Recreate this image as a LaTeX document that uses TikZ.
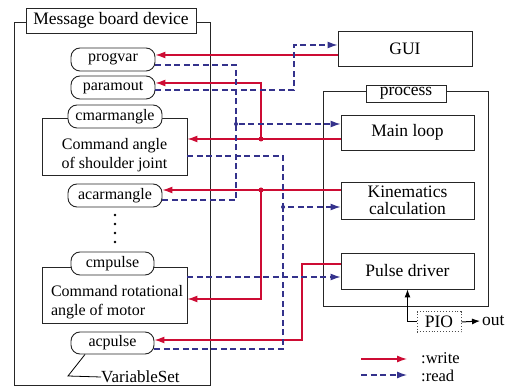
\documentclass[tikz,border=0pt]{standalone}
\usepackage{fontspec}
\setmainfont{Liberation Serif}
\usetikzlibrary{arrows.meta}
\definecolor{wred}{RGB}{205,12,52}
\definecolor{rblue}{RGB}{52,50,140}
\begin{document}
\begin{tikzpicture}[x=1pt,y=-1pt,
  box/.style={draw=black!85,line width=0.9pt,fill=white,inner sep=0pt,font=\fontsize{17.5}{19}\selectfont,align=center},
  var/.style={draw=black!85,line width=0.9pt,fill=white,rounded corners=9pt,inner sep=0pt,minimum height=23pt,font=\fontsize{16}{18}\selectfont},
  ibox/.style={draw=black!85,line width=0.9pt,inner sep=0pt,minimum width=145pt},
  itext/.style={font=\fontsize{16}{18.5}\selectfont,inner sep=0pt},
  wr/.style={draw=wred,line width=1.2pt,-{Latex[length=10pt,width=7pt]}},
  rd/.style={draw=rblue,line width=1.2pt,dash pattern=on 6pt off 3.5pt,-{Latex[length=10pt,width=7pt]}},
  rdl/.style={draw=rblue,line width=1.2pt,dash pattern=on 6pt off 3.5pt},
  jdot/.style={circle,inner sep=0pt,minimum size=5pt},
  legtext/.style={font=\fontsize{16.5}{17}\selectfont,inner sep=0pt,anchor=west}
]
\useasboundingbox (0,0) rectangle (509,387);
% --- Message board device ---
\draw[draw=black!85,line width=0.9pt] (14,22) rectangle (210,385);
\node[box,minimum width=170pt,minimum height=25pt] (mbd) at (111,20.5) {Message board device};
\node[var,minimum width=84pt] (progvar) at (113,59.5) {progvar};
\node[var,minimum width=84pt] (paramout) at (113,87.5) {paramout};
\node[ibox,minimum height=57pt] (cmdA) at (114.5,146.5) {};
\node[var,minimum width=94pt] (cmarm) at (115,116.5) {cmarmangle};
\node[itext,align=center] (cmdAt) at (114.5,155) {Command angle\\of shoulder joint};
\node[var,minimum width=94pt] (acarm) at (115,195.5) {acarmangle};
\foreach \yy in {215,224,233,242} \fill (115,\yy) circle (1.3pt);
\node[ibox,minimum height=56pt] (cmdR) at (114.5,295) {};
\node[var,minimum width=83pt] (cmpulse) at (112.5,263.5) {cmpulse};
\node[itext,align=left] (cmdRt) at (117,302) {Command rotational\\angle of motor};
\node[var,minimum width=83pt,minimum height=22pt] (acpulse) at (112.5,343) {acpulse};
\node[itext,font=\fontsize{17}{19}\selectfont,anchor=west] (vs) at (101,377) {VariableSet};
\coordinate (vsc) at (68,376);
\draw[draw=black,line width=0.8pt] ([xshift=-27.5pt]acpulse.south) -- (vsc) -- (vs.west);
% --- right side ---
\node[box,minimum width=134pt,minimum height=35pt] (gui) at (405,48.5) {GUI};
\draw[draw=black!85,line width=0.9pt] (323,91) rectangle (488,306);
\node[box,minimum width=80pt,minimum height=17pt] (proc) at (406,93.5) {process};
\node[box,minimum width=133pt,minimum height=35pt] (main) at (407.5,132.5) {Main loop};
\node[box,minimum width=133pt,minimum height=37pt,font=\fontsize{17.5}{17.5}\selectfont] (kin) at (407.5,200.5) {Kinematics\\calculation};
\node[box,minimum width=133pt,minimum height=36pt] (pulse) at (407.5,271) {Pulse driver};
\node[box,draw=black!70,dotted,line width=1pt,minimum width=44pt,minimum height=20pt] (pio) at (439,322) {PIO};
\node[font=\fontsize{17.5}{19}\selectfont,inner sep=0pt,anchor=west] (out) at (482,321) {out};
\draw[line width=1pt,-{Latex[length=8pt,width=6pt]}] (pio.west) -| (pulse.south);
\draw[line width=1pt,-{Latex[length=8pt,width=6pt]}] (pio.east) -- ([xshift=-2pt]out.west);
% --- helper levels ---
\path (0,55) coordinate (h55) (0,65) coordinate (h65) (0,83) coordinate (h83)
      (0,90) coordinate (h90) (0,139) coordinate (h139) (0,156) coordinate (h156)
      (0,190) coordinate (h190) (0,200) coordinate (h200) (0,264) coordinate (h264)
      (0,277) coordinate (h277) (0,299) coordinate (h299) (0,340) coordinate (h340)
      (0,349) coordinate (h349);
\coordinate (j1) at (261,139);
\coordinate (j2) at (261,190);
\coordinate (ja) at (236,124);
\coordinate (jb) at (283,207);
\coordinate (c2) at (294,45);
\coordinate (c4) at (302,340);
% --- write (red) ---
\draw[wr] (gui.west |- h55) -- (progvar.east |- h55);
\draw[wr] (main.west |- h139) -- (cmdA.east |- h139);
\draw[wr] (j1) |- (paramout.east |- h83);
\draw[wr] (kin.west |- h190) -- (acarm.east |- h190);
\draw[wr] (j2) |- (cmdR.east |- h299);
\draw[wr] (pulse.west |- h264) -| (c4) -- (acpulse.east |- c4);
\node[jdot,fill=wred] at (j1) {};
\node[jdot,fill=wred] at (j2) {};
% --- read (blue) ---
\draw[rd] (progvar.east |- h65) -| (ja) -- (main.west |- ja);
\draw[rdl] (acarm.east |- h200) -| (ja);
\draw[rd] (paramout.east |- h90) -| (c2) -- (gui.west |- c2);
\draw[rd] (cmdA.east |- h156) -| (jb) -- (kin.west |- jb);
\draw[rdl] (acpulse.east |- h349) -| (jb);
\draw[rd] (cmdR.east |- h277) -- (pulse.west |- h277);
\node[jdot,fill=rblue,minimum size=4pt] at (ja) {};
\node[jdot,fill=rblue,minimum size=4pt] at (jb) {};
% --- legend ---
\coordinate (lw1) at (361,359);
\coordinate (lw2) at (407,359);
\coordinate (lr1) at (361,375);
\coordinate (lr2) at (407,375);
\draw[wr] (lw1) -- (lw2);
\draw[rd] (lr1) -- (lr2);
\node[legtext] (lwt) at (421,358) {:write};
\node[legtext] (lrt) at (421,375.5) {:read};
\end{tikzpicture}
\end{document}
